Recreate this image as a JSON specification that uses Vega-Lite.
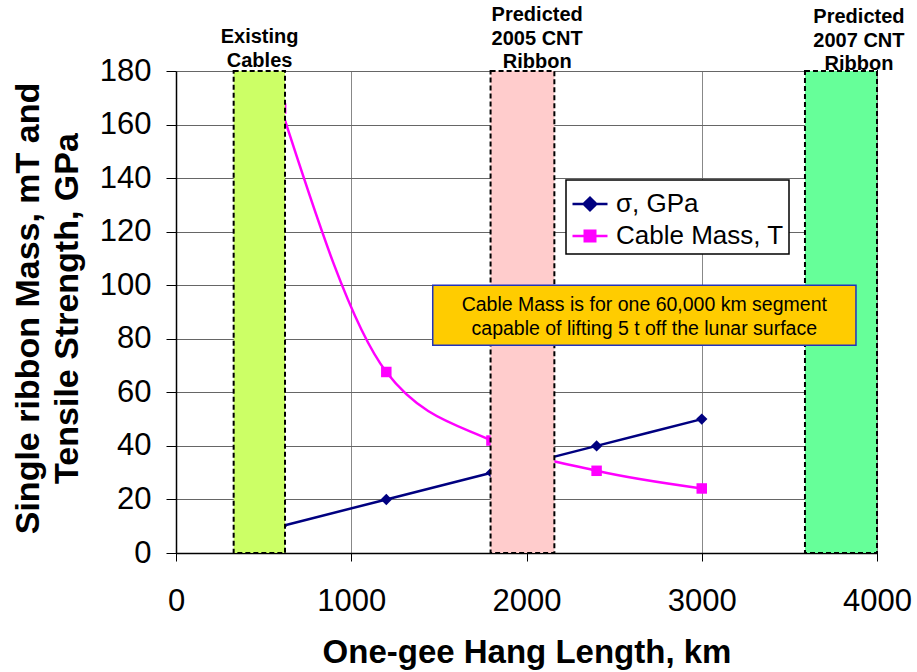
{
  "$schema": "https://vega.github.io/schema/vega-lite/v6.json",
  "autosize": {"type": "none"},
  "width": 701,
  "height": 482,
  "padding": {"left": 176, "top": 71, "right": 40, "bottom": 119},
  "background": "white",
  "config": {
    "font": "Liberation Sans",
    "view": {"stroke": null}
  },
  "datasets": {
    "series": [
      {"km": 600, "value": 10, "series": "σ, GPa"},
      {"km": 1200, "value": 20, "series": "σ, GPa"},
      {"km": 1800, "value": 30, "series": "σ, GPa"},
      {"km": 2400, "value": 40, "series": "σ, GPa"},
      {"km": 3000, "value": 50, "series": "σ, GPa"},
      {"km": 600, "value": 166, "series": "Cable Mass, T"},
      {"km": 1200, "value": 67.6, "series": "Cable Mass, T"},
      {"km": 1800, "value": 42, "series": "Cable Mass, T"},
      {"km": 2400, "value": 30.7, "series": "Cable Mass, T"},
      {"km": 3000, "value": 24.1, "series": "Cable Mass, T"}
    ],
    "bands": [
      {"band": "Existing Cables", "start": 329, "end": 622, "label": "Existing\nCables", "labelX": 477, "labelY": 192.6},
      {"band": "Predicted 2005 CNT Ribbon", "start": 1795, "end": 2159, "label": "Predicted\n2005 CNT\nRibbon", "labelX": 2061, "labelY": 200.8},
      {"band": "Predicted 2007 CNT Ribbon", "start": 3589, "end": 4000, "label": "Predicted\n2007 CNT\nRibbon", "labelX": 3897, "labelY": 200.1}
    ],
    "note": [
      {"x1": 1465, "x2": 3880, "y1": 77.6, "y2": 100, "cx": 2672, "cy": 92.5,
       "text": "Cable Mass is for one 60,000 km segment\ncapable of lifting 5 t off the lunar surface"}
    ]
  },
  "layer": [
    {
      "data": {"name": "series"},
      "mark": {"type": "line", "interpolate": "monotone", "strokeWidth": 2.5, "clip": false},
      "encoding": {
        "x": {
          "field": "km", "type": "quantitative",
          "scale": {"domain": [0, 4000], "nice": false, "zero": false},
          "axis": {
            "title": "One-gee Hang Length, km",
            "values": [0, 1000, 2000, 3000, 4000],
            "format": "d",
            "grid": true, "gridColor": "#888888", "gridWidth": 1, "gridOpacity": 1,
            "domainColor": "#000000", "domainWidth": 1.5,
            "tickColor": "#000000", "tickSize": 8, "tickWidth": 1,
            "labelFont": "Liberation Sans", "labelFontSize": 31, "labelColor": "#000000",
            "labelPadding": 25, "labelFlush": false, "labelOverlap": false,
            "titleFont": "Liberation Sans", "titleFontSize": 33, "titleFontWeight": "bold",
            "titleColor": "#000000", "titleBaseline": "alphabetic", "titleY": 109
          }
        },
        "y": {
          "field": "value", "type": "quantitative",
          "scale": {"domain": [0, 180], "nice": false},
          "axis": {
            "title": ["Single ribbon Mass, mT and", "Tensile Strength, GPa"],
            "values": [0, 20, 40, 60, 80, 100, 120, 140, 160, 180],
            "grid": true, "gridColor": "#666666", "gridWidth": 1, "gridOpacity": 1,
            "domainColor": "#000000", "domainWidth": 1.5,
            "tickColor": "#000000", "tickSize": 10, "tickWidth": 1,
            "labelFont": "Liberation Sans", "labelFontSize": 31, "labelColor": "#000000",
            "labelPadding": 15, "labelFlush": false, "labelOverlap": false,
            "titleFont": "Liberation Sans", "titleFontSize": 34, "titleFontWeight": "bold",
            "titleColor": "#000000", "titleAngle": -90, "titleAlign": "center",
            "titleBaseline": "alphabetic", "titleLineHeight": 39,
            "titleX": -138, "titleY": 237
          }
        },
        "color": {
          "field": "series", "type": "nominal",
          "scale": {"domain": ["σ, GPa", "Cable Mass, T"], "range": ["#000080", "#FF00FF"]},
          "legend": {
            "title": null,
            "orient": "none",
            "legendX": 390,
            "legendY": 109,
            "direction": "vertical",
            "fillColor": "#FFFFFF",
            "strokeColor": "#000000",
            "padding": 5,
            "labelFont": "Liberation Sans",
            "labelFontSize": 26,
            "labelColor": "#000000",
            "labelOffset": 7,
            "labelExpr": "datum.label === 'σ, GPa' ? '\u00a0σ, GPa' : datum.label",
            "rowPadding": -3,
            "symbolSize": 1225,
            "symbolStrokeWidth": 2.5,
            "labelLimit": 300,
            "encode": {
              "legend": {
                "update": {"strokeWidth": {"value": 1.5}}
              },
              "symbols": {
                "update": {
                  "shape": {"signal": "datum.value === 'σ, GPa' ? 'M-1,0H1M-0.36,0L0,-0.36L0.36,0L0,0.36Z' : 'M-1,0H1M-0.3,-0.3H0.3V0.3H-0.3Z'"},
                  "fill": {"scale": "color", "field": "value"},
                  "stroke": {"scale": "color", "field": "value"},
                  "strokeWidth": {"value": 2.5},
                  "opacity": {"value": 1}
                }
              }
            }
          }
        }
      }
    },
    {
      "data": {"name": "series"},
      "transform": [{"filter": "datum.series === 'σ, GPa'"}],
      "mark": {"type": "point", "shape": "diamond", "size": 130, "filled": true, "opacity": 1, "clip": false},
      "encoding": {
        "x": {"field": "km", "type": "quantitative"},
        "y": {"field": "value", "type": "quantitative"},
        "color": {"field": "series", "type": "nominal", "legend": null}
      }
    },
    {
      "data": {"name": "series"},
      "transform": [{"filter": "datum.series === 'Cable Mass, T'"}],
      "mark": {"type": "point", "shape": "square", "size": 110, "filled": true, "opacity": 1, "clip": false},
      "encoding": {
        "x": {"field": "km", "type": "quantitative"},
        "y": {"field": "value", "type": "quantitative"},
        "color": {"field": "series", "type": "nominal", "legend": null}
      }
    },
    {
      "data": {"name": "bands"},
      "mark": {"type": "rect", "stroke": "#000000", "strokeWidth": 2, "strokeDash": [5, 3], "opacity": 1, "clip": false},
      "encoding": {
        "x": {"field": "start", "type": "quantitative"},
        "x2": {"field": "end"},
        "y": {"datum": 0, "type": "quantitative"},
        "y2": {"datum": 180},
        "fill": {
          "field": "band", "type": "nominal",
          "scale": {
            "domain": ["Existing Cables", "Predicted 2005 CNT Ribbon", "Predicted 2007 CNT Ribbon"],
            "range": ["#CCFF66", "#FFCCCC", "#66FF99"]
          },
          "legend": null
        }
      }
    },
    {
      "data": {"name": "bands"},
      "mark": {"type": "text", "font": "Liberation Sans", "fontSize": 20, "fontWeight": "bold",
               "color": "#000000", "align": "center", "baseline": "middle", "lineBreak": "\n", "lineHeight": 23.5, "clip": false},
      "encoding": {
        "x": {"field": "labelX", "type": "quantitative"},
        "y": {"field": "labelY", "type": "quantitative"},
        "text": {"field": "label"}
      }
    },
    {
      "data": {"name": "note"},
      "mark": {"type": "rect", "fill": "#FFCC00", "stroke": "#2233BB", "strokeWidth": 1.5, "clip": false},
      "encoding": {
        "x": {"field": "x1", "type": "quantitative"},
        "x2": {"field": "x2"},
        "y": {"field": "y1", "type": "quantitative"},
        "y2": {"field": "y2"}
      }
    },
    {
      "data": {"name": "note"},
      "mark": {"type": "text", "font": "Liberation Sans", "fontSize": 19.5, "color": "#000000",
               "align": "center", "baseline": "middle", "lineBreak": "\n", "lineHeight": 24, "clip": false},
      "encoding": {
        "x": {"field": "cx", "type": "quantitative"},
        "y": {"field": "cy", "type": "quantitative"},
        "text": {"field": "text"}
      }
    }
  ]
}
